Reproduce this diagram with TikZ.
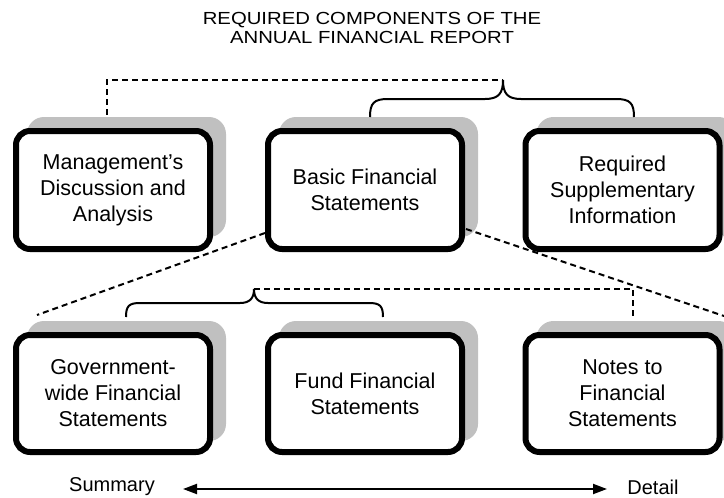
\documentclass[tikz,border=0pt]{standalone}
\usepackage{fontspec}
\setmainfont{Liberation Sans}
\newfontfamily\titlefont[FakeStretch=1.16]{Liberation Sans}
\usetikzlibrary{arrows.meta,calc}
\definecolor{shadowgray}{HTML}{C0C0C0}
\tikzset{
  mainbox/.style={draw=black, line width=6pt, fill=white, rounded corners=14pt,
    minimum width=194pt, minimum height=118pt, inner sep=0pt, align=center,
    font=\fontsize{21.5}{26}\selectfont},
  shadowbox/.style={fill=shadowgray, rounded corners=17pt,
    minimum width=199pt, minimum height=120pt, inner sep=0pt},
  dashline/.style={line width=2pt, dash pattern=on 6pt off 4pt},
  bracepath/.style={line width=2pt},
  endlabel/.style={font=\fontsize{20}{24}\selectfont, inner sep=0pt}
}
\begin{document}
\begin{tikzpicture}[x=1pt,y=-1pt]
\useasboundingbox (0,0) rectangle (724,498);
\fill[white] (0,0) rectangle (724,498);
% title
\node[align=center, inner sep=0pt, font=\titlefont\fontsize{17.5}{18.5}\selectfont] (title) at (372,28) {REQUIRED COMPONENTS OF THE\\ANNUAL FINANCIAL REPORT};
% shadows
\node[shadowbox] (s1) at (126.5,177) {};
\node[shadowbox] (s2) at (378.5,177) {};
\node[shadowbox] (s3) at (636,177) {};
\node[shadowbox] (s4) at (126.5,381) {};
\node[shadowbox] (s5) at (378.5,381) {};
\node[shadowbox] (s6) at (636,381) {};
% boxes
\node[mainbox] (b1) at (113,190) {Management’s\\Discussion and\\Analysis};
\node[mainbox] (b2) at (365,190) {Basic Financial\\Statements};
\node[mainbox] (b3) at (622.5,190) {Required\\Supplementary\\Information};
\node[mainbox, minimum height=117pt] (b4) at (113,393.5) {Government-\\wide Financial\\Statements};
\node[mainbox, minimum height=117pt] (b5) at (365,393.5) {Fund Financial\\Statements};
\node[mainbox, minimum height=117pt] (b6) at (622.5,393.5) {Notes to\\Financial\\Statements};
% coordinates
\coordinate (t1) at (503,80);
\coordinate (t2) at (254,289);
\coordinate (m1) at ([xshift=-6pt]b1.north |- s1.north);
\coordinate (dl1) at (265,233);
\coordinate (dl2) at (37,315);
\coordinate (dr1) at (466,229);
\coordinate (dr2) at (724,316);
\coordinate (n1) at (633,317);
% top dashed connector
\draw[dashline] ([yshift=2pt]m1) |- (t1);
% top brace
\draw[bracepath] (370,117) .. controls (370,103) and (374,99) .. (388,99) -- (485,99)
  .. controls (499,99) and (503,93) .. (t1)
  .. controls (503,93) and (507,99) .. (521,99) -- (616,99)
  .. controls (630,99) and (634,103) .. (634,117);
% diagonals
\draw[dashline] (dl1) -- (dl2);
\draw[dashline] (dr1) -- (dr2);
% lower dashed connector
\draw[dashline] (t2) -| (n1);
% lower brace
\draw[bracepath] (126,317) .. controls (126,306) and (129,303) .. (140,303) -- (240,303)
  .. controls (250,303) and (254,298) .. (t2)
  .. controls (254,298) and (258,303) .. (268,303) -- (369,303)
  .. controls (380,303) and (383,306) .. (383,317);
% bottom arrow
\node[endlabel] (sum) at (112,487) {Summary};
\node[endlabel] (det) at (653,487) {Detail};
\coordinate (a1) at (183,489);
\coordinate (a2) at (607,489);
\draw[line width=2pt, {Triangle[length=14pt,width=10pt]}-{Triangle[length=14pt,width=10pt]}] (a1) -- (a2);
\end{tikzpicture}
\end{document}
